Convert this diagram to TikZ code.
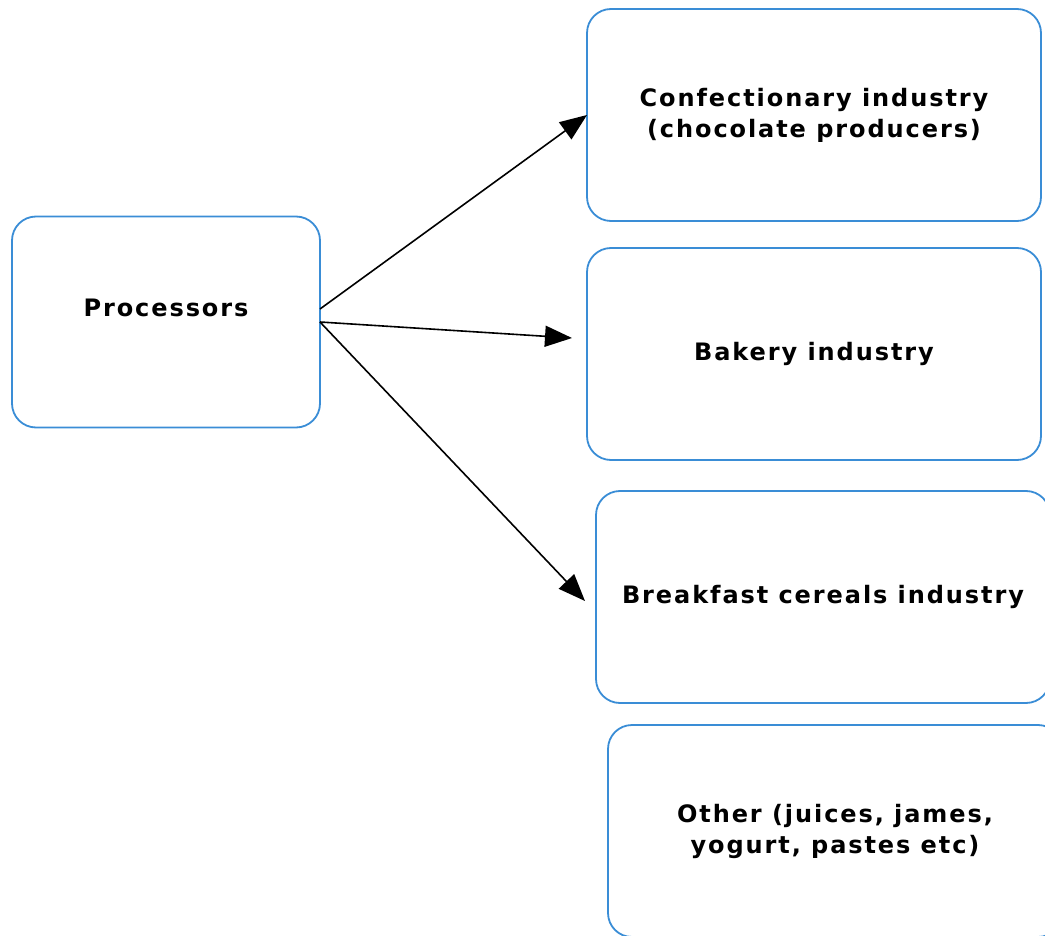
\documentclass[tikz,border=0pt]{standalone}
\usepackage{xcolor}
\usepackage{fontspec}
\setmainfont{DejaVu Sans}
\newfontfamily\boxfont[LetterSpace=8]{DejaVu Sans}
\usepackage{tikz}
\usetikzlibrary{positioning}
\usetikzlibrary{arrows.meta}
\usetikzlibrary{shapes}

\definecolor{boxblue}{RGB}{58,141,214}

\begin{document}
\begin{tikzpicture}[
                	    x = 1pt, y = -1pt,
                		box/.style = { rectangle, rounded corners = 24pt, draw = boxblue, line width = 1.8pt, fill = white, text = black, minimum width = 454pt, minimum height = 212pt, font = \boxfont\fontsize{24}{31}\selectfont\bfseries, align = center, inner sep=0pt, outer sep=0pt },
                		link/.style = { draw, black, line width = 1.6pt, -{Triangle[length=27pt, width=21pt]} },
            		] 
            		    \useasboundingbox (0,0) rectangle (1045,936);
            		    \node[box, minimum width = 308pt, minimum height = 211pt, text depth = 28pt] (Proc) at (166,322) {Processors};
            		    \node[box] (Conf) at (814,115) {Confectionary industry\\(chocolate producers)};
            		    \node[box] (Bake) at (814,354) {Bakery industry};
            		    \node[box] (Cereal) at (823,597) {Breakfast cereals industry};
            		    \node[box] (Other) at (835,831) {Other (juices, james,\\yogurt, pastes etc)};
            		    \coordinate (BakeIn) at (572,338);
            		    \coordinate (CerealIn) at (585,601);
            		    \draw[link] ([yshift=13pt]Proc.east) -- (Conf.west);
            		    \draw[link] (Proc.east) -- (BakeIn);
            		    \draw[link] (Proc.east) -- (CerealIn);
            		\end{tikzpicture}
\end{document}
